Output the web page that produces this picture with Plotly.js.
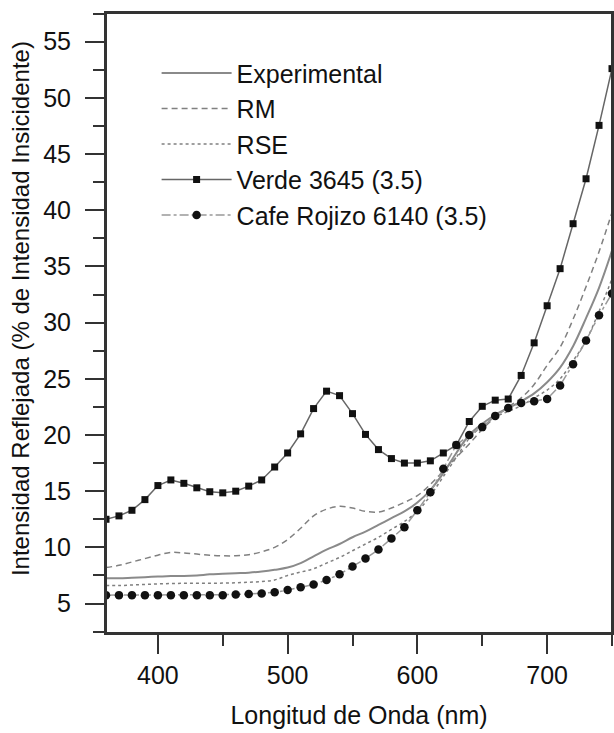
<!DOCTYPE html>
<html>
<head>
<meta charset="utf-8">
<script src="https://cdn.plot.ly/plotly-3.0.1.min.js"></script>
<style>html,body{margin:0;padding:0;background:#fff;}#chart{width:614px;height:733px;}</style>
</head>
<body>
<div id="chart"></div>
<script>
// Wavelength (nm)
var wavelength = [360,370,380,390,400,410,420,430,440,450,460,470,480,490,500,510,520,530,540,550,560,570,580,590,600,610,620,630,640,650,660,670,680,690,700,710,720,730,740,750];

var experimental = [7.25,7.25,7.3,7.35,7.4,7.45,7.45,7.5,7.6,7.65,7.7,7.75,7.85,8.0,8.2,8.6,9.2,9.8,10.3,10.9,11.4,12.0,12.6,13.2,14.0,15.1,16.6,18.4,20.0,21.0,21.8,22.4,23.0,23.7,24.7,26.0,27.9,30.4,33.1,36.4];

var rm = [8.2,8.4,8.7,9.0,9.3,9.55,9.5,9.4,9.3,9.25,9.25,9.35,9.6,10.0,10.7,11.7,12.8,13.4,13.65,13.5,13.2,13.15,13.5,14.0,14.6,15.6,16.8,18.0,19.2,20.5,21.6,22.5,23.3,24.5,26.2,27.8,30.3,33.2,36.3,39.8];

var rse = [6.6,6.6,6.65,6.7,6.75,6.78,6.8,6.8,6.8,6.82,6.85,6.9,6.95,7.1,7.5,7.8,8.1,8.6,9.1,9.7,10.3,10.9,11.6,12.3,13.2,14.6,16.3,18.0,19.7,20.8,21.6,22.1,22.6,23.3,24.0,25.0,26.6,28.4,31.0,33.9];

var verde = [12.5,12.8,13.3,14.25,15.5,16.0,15.7,15.3,14.95,14.85,15.0,15.45,16.0,17.15,18.4,20.1,22.35,23.9,23.5,21.9,20.05,18.7,17.9,17.5,17.5,17.7,18.4,19.1,21.2,22.55,23.1,23.2,25.3,28.2,31.5,34.8,38.8,42.8,47.55,52.6];

var cafe = [5.75,5.75,5.75,5.75,5.75,5.75,5.75,5.75,5.75,5.75,5.8,5.85,5.9,6.0,6.2,6.45,6.7,7.1,7.6,8.3,9.0,9.8,10.8,11.8,13.3,14.9,17.0,19.1,20.0,20.7,21.7,22.4,22.85,23.0,23.2,24.4,26.3,28.4,30.65,32.6];

var seriesNames = ["Experimental","RM","RSE","Verde 3645 (3.5)","Cafe Rojizo 6140 (3.5)"];
var xTickVals = [400,500,600,700];
var yTickVals = [5,10,15,20,25,30,35,40,45,50,55];

var FONT = "Arial";

var traces = [
  {x: wavelength, y: experimental, name: seriesNames[0], mode: "lines",
   line: {color: "#8a8a8a", width: 2, shape: "spline"}},
  {x: wavelength, y: rm, name: seriesNames[1], mode: "lines",
   line: {color: "#808080", width: 1.5, dash: "6px,4px", shape: "spline"}},
  {x: wavelength, y: rse, name: seriesNames[2], mode: "lines",
   line: {color: "#808080", width: 1.5, dash: "dot", shape: "spline"}},
  {x: wavelength, y: verde, name: seriesNames[3], mode: "lines+markers",
   line: {color: "#666", width: 1.5},
   marker: {symbol: "square", size: 7, color: "#111"}},
  {x: wavelength, y: cafe, name: seriesNames[4], mode: "lines+markers",
   line: {color: "#999", width: 1.5, dash: "dashdot"},
   marker: {symbol: "circle", size: 8.5, color: "#111"}}
];

var layout = {
  width: 614, height: 733,
  margin: {l: 106, r: 2, t: 13, b: 100},
  paper_bgcolor: "#fff", plot_bgcolor: "#fff",
  font: {family: FONT, size: 25, color: "#111"},
  showlegend: true,
  legend: {x: 0.1, y: 0.94, xanchor: "left", yanchor: "top",
           bgcolor: "rgba(0,0,0,0)", font: {family: FONT, size: 25, color: "#111"},
           itemwidth: 70, tracegroupgap: 0},
  xaxis: {range: [360, 750], tickvals: xTickVals, ticks: "outside", ticklen: 19, tickwidth: 2,
          tickcolor: "#333", showline: true, linecolor: "#333", linewidth: 2, mirror: true,
          showgrid: false, zeroline: false, ticklabelstandoff: 0,
          tickfont: {family: FONT, size: 25, color: "#111"},
          minor: {dtick: 50, tick0: 350, ticks: "outside", ticklen: 11, tickwidth: 2, tickcolor: "#333", showgrid: false},
          title: {text: "Longitud de Onda (nm)", font: {family: FONT, size: 25, color: "#111"}, standoff: 18}},
  yaxis: {range: [2.38, 57.55], tickvals: yTickVals, ticks: "outside", ticklen: 19, tickwidth: 2,
          tickcolor: "#333", showline: true, linecolor: "#333", linewidth: 2, mirror: true,
          showgrid: false, zeroline: false, ticklabelstandoff: 9,
          tickfont: {family: FONT, size: 25, color: "#111"},
          minor: {dtick: 2.5, tick0: 0, ticks: "outside", ticklen: 11, tickwidth: 2, tickcolor: "#333", showgrid: false}},
  shapes: [{type: "rect", xref: "paper", yref: "paper", x0: 0, x1: 1, y0: 0, y1: 1,
            line: {color: "#333", width: 2}, fillcolor: "rgba(0,0,0,0)"}],
  annotations: [{text: "Intensidad Reflejada (% de Intensidad Insicidente)", textangle: -90,
                 xref: "paper", yref: "paper", x: -0.17, y: 0.524, xanchor: "center", yanchor: "middle",
                 showarrow: false, font: {family: FONT, size: 24, color: "#111"}}]
};

Plotly.newPlot("chart", traces, layout, {staticPlot: true, displayModeBar: false});
</script>
</body>
</html>
